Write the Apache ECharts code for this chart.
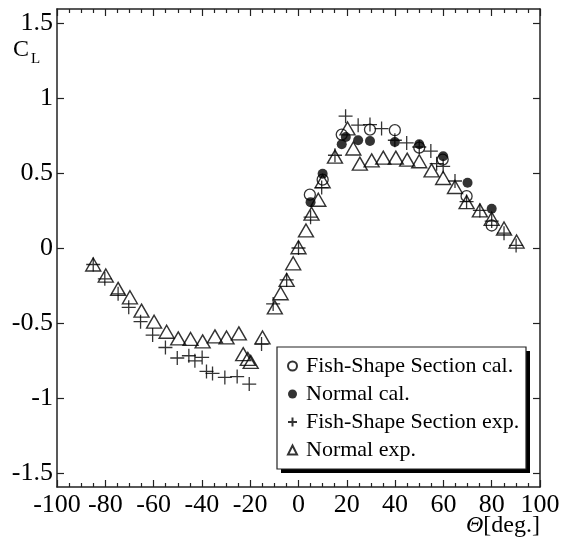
<!DOCTYPE html>
<html>
<head>
<meta charset="utf-8">
<script src="https://cdn.jsdelivr.net/npm/echarts@6/dist/echarts.min.js"></script>
<style>
html, body { margin: 0; padding: 0; background: #fff; }
#chart { width: 570px; height: 542px; }
</style>
</head>
<body>
<div id="chart"></div>
<script>
// angle [deg], lift coefficient
var fishCal = [
	[4.7, 0.356], [10.0, 0.456], [17.9, 0.757], [29.6, 0.79], [39.9, 0.786],
	[50.0, 0.67], [59.7, 0.59], [69.6, 0.346], [80.0, 0.15]
];
var normalCal = [
	[5.0, 0.306], [10.0, 0.496], [17.9, 0.692], [19.6, 0.741], [24.7, 0.719],
	[29.6, 0.714], [39.9, 0.708], [50.0, 0.692], [59.9, 0.612], [70.0, 0.436],
	[80.0, 0.262]
];
var fishExp = [
	[-85, -0.11], [-80.2, -0.206], [-74.7, -0.306], [-70.3, -0.396], [-65.4, -0.492],
	[-60.4, -0.581], [-55.1, -0.664], [-50.2, -0.734], [-45.4, -0.719], [-42.9, -0.753],
	[-39.9, -0.73], [-38.1, -0.824], [-35.6, -0.837], [-30.5, -0.864], [-25.4, -0.858],
	[-20.4, -0.908], [-15.3, -0.641], [-10.5, -0.373], [-4.9, -0.213], [0, 0.0],
	[5.0, 0.206], [9.6, 0.403], [15.1, 0.619], [19.5, 0.88], [24.7, 0.82],
	[29.6, 0.824], [34.4, 0.797], [39.9, 0.719], [44.8, 0.701], [50.0, 0.674],
	[54.8, 0.647], [57.2, 0.563], [59.9, 0.545], [64.8, 0.447], [69.6, 0.31],
	[75.1, 0.251], [80.0, 0.18], [85.1, 0.099], [90.1, 0.017]
];
var normalExp = [
	[-85.0, -0.11], [-79.8, -0.184], [-74.7, -0.273], [-69.8, -0.329], [-65.0, -0.418],
	[-59.8, -0.492], [-54.6, -0.559], [-49.8, -0.603], [-44.7, -0.607], [-39.7, -0.623],
	[-34.6, -0.59], [-29.8, -0.597], [-24.7, -0.57], [-22.9, -0.708], [-21.0, -0.74],
	[-19.8, -0.76], [-14.9, -0.597], [-9.8, -0.396], [-7.4, -0.302], [-4.9, -0.213],
	[-2.2, -0.102], [0, 0.005], [3.1, 0.117], [5.4, 0.229], [8.2, 0.322],
	[10.0, 0.445], [15.1, 0.61], [20.3, 0.798], [22.7, 0.664], [25.4, 0.563],
	[30.3, 0.585], [35.1, 0.603], [40.3, 0.603], [45.0, 0.59], [50.0, 0.579],
	[55.1, 0.518], [59.9, 0.467], [64.8, 0.407], [69.6, 0.306], [75.1, 0.251],
	[80.0, 0.195], [85.1, 0.13], [90.3, 0.043]
];
var yTicks = [-1.5, -1, -0.5, 0, 0.5, 1, 1.5];
var names = ['Fish-Shape Section cal.', 'Normal cal.', 'Fish-Shape Section exp.', 'Normal exp.'];

var serif = 'Liberation Serif';
var axisLine = { show: true, onZero: false, lineStyle: { color: '#222', width: 1.5 } };

function xAxis(pos, labels) {
	return {
		type: 'value', position: pos, min: -100, max: 100, interval: 20,
		axisLine: axisLine,
		axisTick: { show: true, inside: true, length: 7, lineStyle: { color: '#222', width: 1.2 } },
		minorTick: { show: true, splitNumber: 4, length: 4, lineStyle: { color: '#222', width: 1.2 } },
		splitLine: { show: false },
		axisLabel: { show: labels, fontFamily: serif, fontSize: 26, color: '#000', margin: 5 }
	};
}
function yAxis(pos, labels) {
	return {
		type: 'value', position: pos, min: -1.595, max: 1.595,
		axisLine: axisLine,
		axisTick: { show: true, inside: true, length: 7, customValues: yTicks, lineStyle: { color: '#222', width: 1.2 } },
		splitLine: { show: false },
		axisLabel: { show: labels, customValues: yTicks, fontFamily: serif, fontSize: 26, color: '#000', margin: 4 }
	};
}

var openStyle = { color: 'rgba(0,0,0,0)', borderColor: '#000', borderWidth: 1.3 };

var chart = echarts.init(document.getElementById('chart'));
chart.setOption({
	animation: false,
	backgroundColor: '#fff',
	grid: { left: 57, right: 30, top: 9, bottom: 55 },
	xAxis: [xAxis('bottom', true), xAxis('top', false)],
	yAxis: [yAxis('left', true), yAxis('right', false)],
	legend: {
		orient: 'vertical', left: 277, top: 347,
		itemWidth: 9, itemHeight: 9, itemGap: 6,
		padding: [8, 10, 7, 10],
		selectedMode: false,
		textStyle: { fontFamily: serif, fontSize: 22, lineHeight: 22, color: '#000', padding: [0, 0, 0, 4] },
		data: names
	},
	graphic: [
		// legend frame with drop shadow
		{ type: 'rect', z: 3, shape: { x: 281, y: 351, width: 249, height: 122 }, style: { fill: '#000' } },
		{ type: 'rect', z: 3, shape: { x: 277, y: 347, width: 249, height: 122 }, style: { fill: '#fff', stroke: '#222', lineWidth: 1.2 } },
		{ type: 'text', left: 13, top: 38, style: { text: 'C', font: '24px "Liberation Serif"', fill: '#000' } },
		{ type: 'text', left: 31, top: 52, style: { text: 'L', font: '15px "Liberation Serif"', fill: '#000' } },
		{ type: 'text', right: 30, top: 514, style: {
			text: '{i|Θ}[deg.]', font: '24px "Liberation Serif"', fill: '#000',
			rich: { i: { fontStyle: 'italic', fontFamily: serif, fontSize: 24 } }
		} }
	],
	series: [
		{ name: names[0], type: 'scatter', data: fishCal, symbol: 'circle', symbolSize: 11, itemStyle: openStyle, emphasis: { disabled: true } },
		{ name: names[1], type: 'scatter', data: normalCal, symbol: 'circle', symbolSize: 10, itemStyle: { color: '#000' }, emphasis: { disabled: true } },
		{ name: names[2], type: 'scatter', data: fishExp, symbol: 'path://M0,5H10M5,0V10', symbolSize: 14, itemStyle: openStyle, emphasis: { disabled: true } },
		{ name: names[3], type: 'scatter', data: normalExp, symbol: 'triangle', symbolSize: [15, 13], itemStyle: { color: 'rgba(0,0,0,0)', borderColor: '#000', borderWidth: 1.4 }, emphasis: { disabled: true } }
	]
});
</script>
</body>
</html>
